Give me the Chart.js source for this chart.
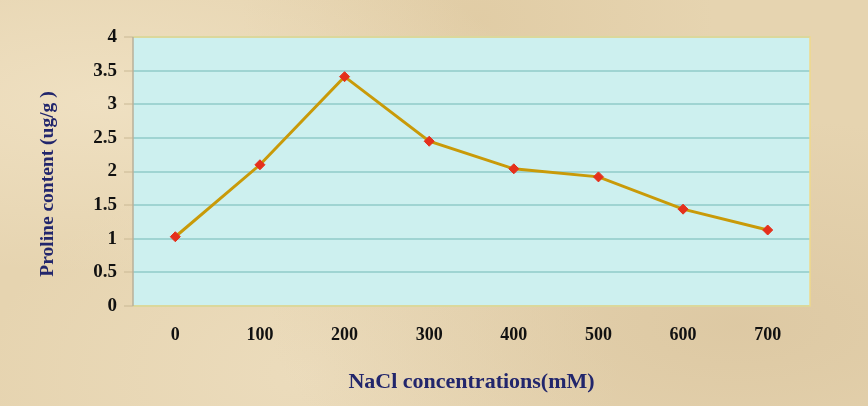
<!DOCTYPE html>
<html>
<head>
<meta charset="utf-8">
<script src="https://cdn.jsdelivr.net/npm/chart.js@4"></script>
<style>
  html, body { margin: 0; padding: 0; }
  body {
    width: 868px; height: 406px; overflow: hidden;
    background-color: #e6d4b0;
    background-image:
      radial-gradient(ellipse at 12% 25%, rgba(245,232,205,0.6), rgba(245,232,205,0) 40%),
      radial-gradient(ellipse at 85% 80%, rgba(205,180,140,0.35), rgba(205,180,140,0) 45%),
      radial-gradient(ellipse at 55% 5%, rgba(215,190,145,0.35), rgba(215,190,145,0) 35%),
      radial-gradient(ellipse at 35% 92%, rgba(240,226,198,0.55), rgba(240,226,198,0) 40%);
  }
  #wrap { position: relative; width: 868px; height: 406px; }
</style>
</head>
<body>
<div id="wrap"><canvas id="prolineChart"></canvas></div>
<script>
// NaCl levels and measured proline
const concentrations = ['0', '100', '200', '300', '400', '500', '600', '700'];
const proline = [1.03, 2.10, 3.41, 2.45, 2.04, 1.92, 1.44, 1.13];
const yTicks = [0, 0.5, 1, 1.5, 2, 2.5, 3, 3.5, 4];

const serif = '"Liberation Serif", "Times New Roman", serif';

// cyan panel behind the plot with a pale frame, plus the vertical axis title
const plotPanel = {
    id: 'plotPanel',
    beforeDraw(chart) {
        const a = chart.chartArea;
        const c = chart.ctx;
        c.save();
        c.fillStyle = '#cdf0ef';
        c.fillRect(a.left, a.top, a.right - a.left, a.bottom - a.top);
        c.restore();
    },
    afterDatasetsDraw(chart) {
        const a = chart.chartArea;
        const c = chart.ctx;
        c.save();
        c.strokeStyle = '#f0d98a';
        c.lineWidth = 1.5;
        c.beginPath();
        c.moveTo(a.left, a.top);
        c.lineTo(a.right, a.top);
        c.lineTo(a.right, a.bottom);
        c.lineTo(a.left, a.bottom);
        c.stroke();
        c.strokeStyle = '#b8b09a';
        c.beginPath();
        c.moveTo(a.left, a.top);
        c.lineTo(a.left, a.bottom);
        c.stroke();
        c.restore();
    },
    afterDraw(chart) {
        const c = chart.ctx;
        c.save();
        c.translate(48, 184);
        c.rotate(-Math.PI / 2);
        c.fillStyle = '#22266c';
        c.font = 'bold 19.5px ' + serif;
        c.textAlign = 'center';
        c.textBaseline = 'middle';
        c.fillText('Proline content (ug/g )', 0, 0);
        c.restore();
    }
};

let ctx = document.getElementById('prolineChart').getContext('2d');

let prolineChart = new Chart(ctx, {
    type: 'line',
    data: {
        labels: concentrations,
        datasets: [{
            data: proline,
            borderColor: '#c99a08',
            borderWidth: 3,
            pointStyle: 'rectRot',
            pointRadius: 5,
            pointHoverRadius: 5,
            pointBackgroundColor: '#e5301c',
            pointBorderColor: '#e5301c',
            pointBorderWidth: 1,
            tension: 0
        }]
    },
    options: {
        responsive: true,
        maintainAspectRatio: false,
        animation: false,
        events: [],
        layout: {
            padding: { left: 0, right: 58, top: 37, bottom: 0 }
        },
        plugins: {
            legend: { display: false },
            tooltip: { enabled: false }
        },
        scales: {
            x: {
                offset: true,
                grid: { display: false, drawTicks: false },
                border: { display: false },
                ticks: {
                    color: '#111',
                    padding: 19,
                    font: { family: serif, size: 18, weight: 'bold' }
                },
                title: {
                    display: true,
                    text: 'NaCl concentrations(mM)',
                    color: '#22266c',
                    padding: { top: 14, bottom: 10 },
                    font: { family: serif, size: 22, weight: 'bold' }
                },
                afterFit(scale) { scale.height = 100; }
            },
            y: {
                min: 0,
                max: 4,
                afterBuildTicks(scale) {
                    scale.ticks = yTicks.map(v => ({ value: v }));
                },
                grid: {
                    color: '#9fd4d2',
                    lineWidth: 2,
                    tickLength: 9,
                    tickColor: '#c9b894',
                    tickWidth: 1
                },
                border: { display: false },
                ticks: {
                    color: '#111',
                    padding: 7,
                    font: { family: serif, size: 19, weight: 'bold' },
                    callback: v => String(v)
                },
                afterFit(scale) { scale.width = 133; }
            }
        }
    },
    plugins: [plotPanel]
});
</script>
</body>
</html>
